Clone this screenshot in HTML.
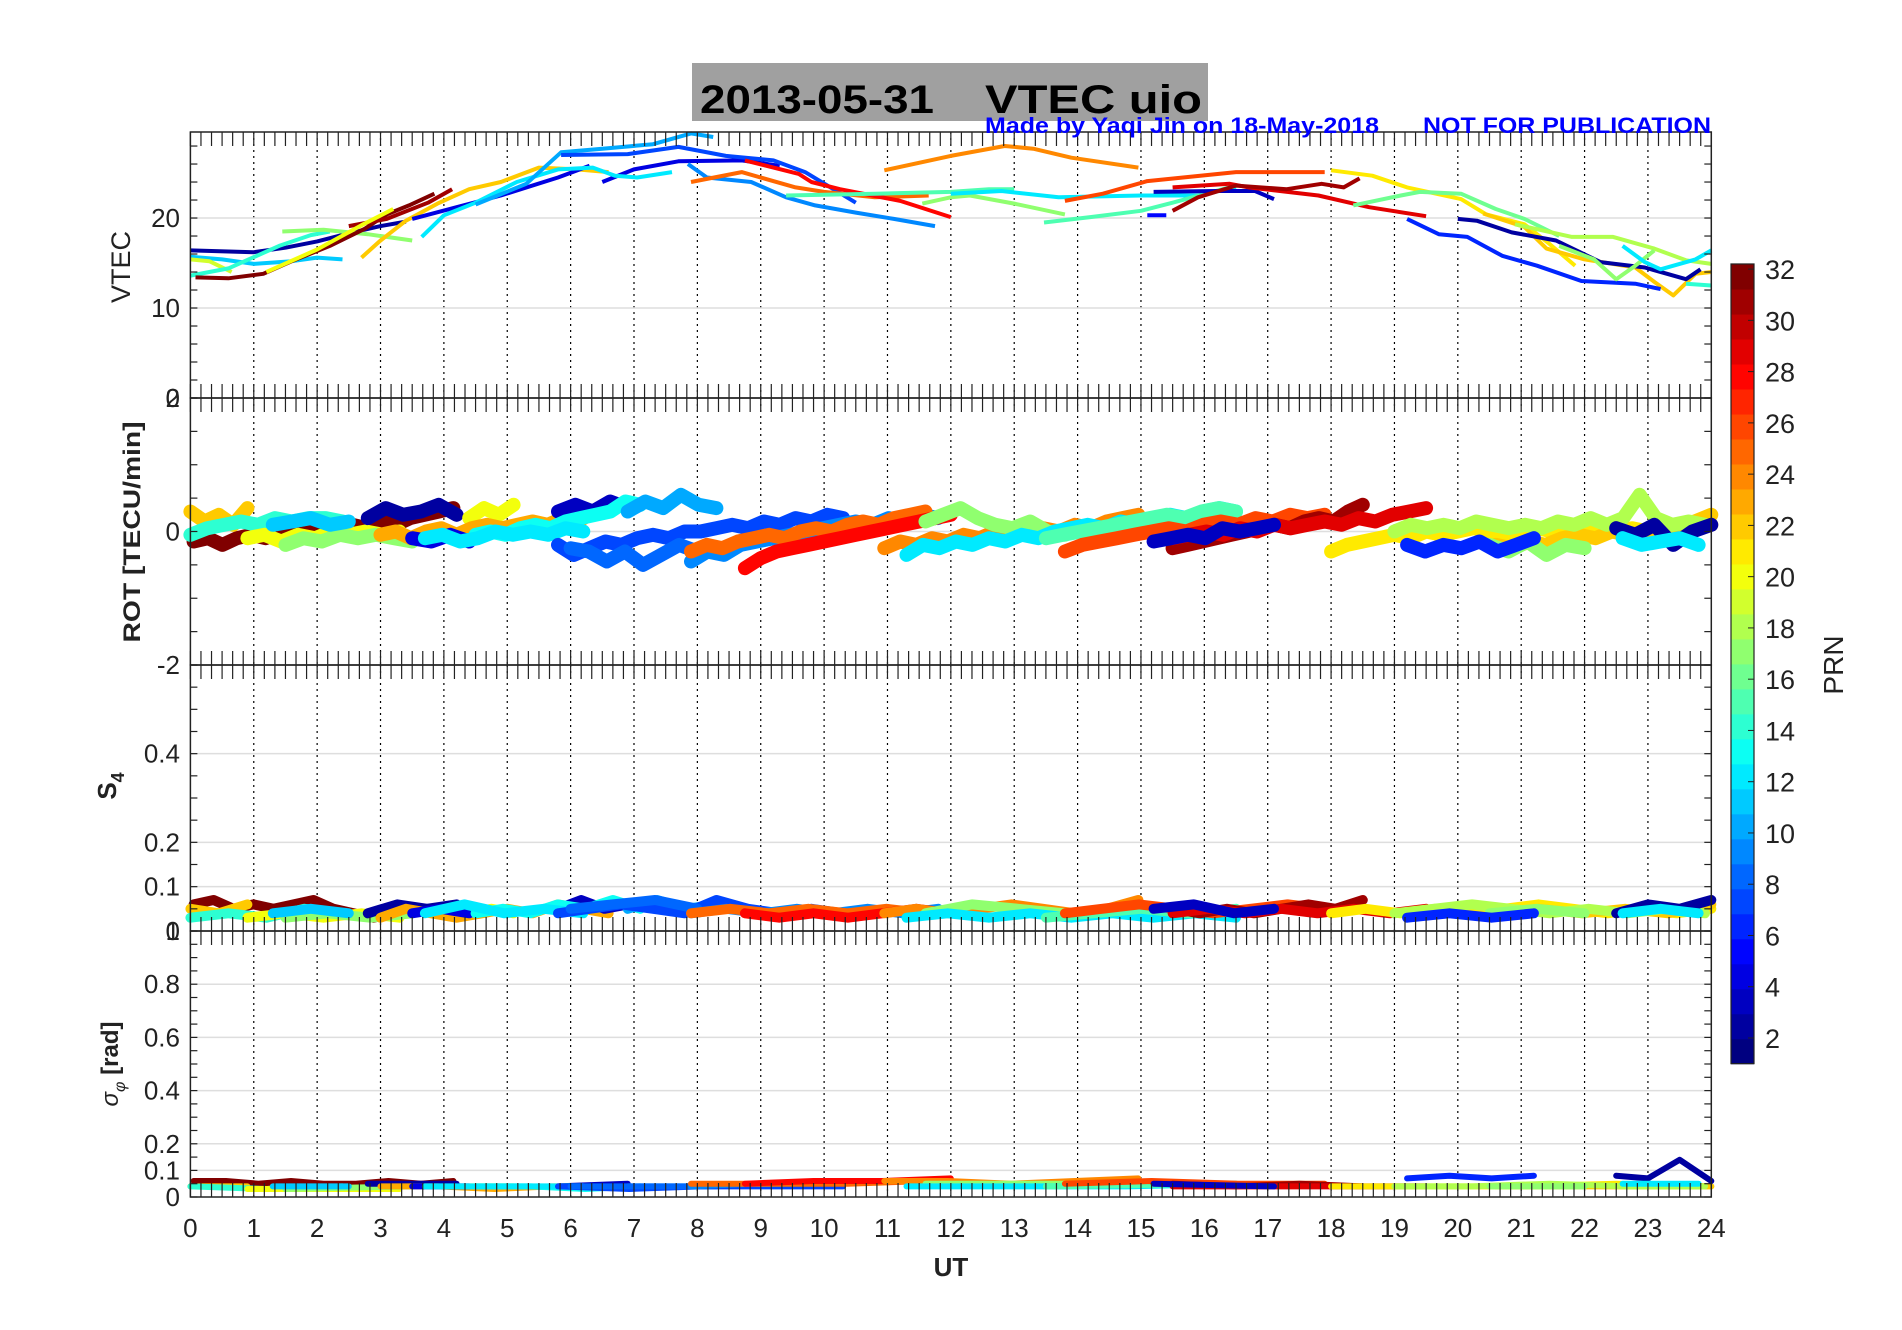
<!DOCTYPE html>
<html><head><meta charset="utf-8"><style>
html,body{margin:0;padding:0;background:#fff;}
svg{display:block;font-family:"Liberation Sans",Arial,sans-serif;}
</style></head><body>
<svg id="fig" width="1902" height="1330" viewBox="0 0 1902 1330" xmlns="http://www.w3.org/2000/svg">
<rect x="0" y="0" width="1902" height="1330" fill="#fff"/>
<g id="grid"></g>
<g id="data"></g>
<g id="axes"></g>
<rect x="692" y="63" width="516" height="58" fill="#a0a0a0"/>
<text y="113" font-size="40" font-weight="bold" fill="#000"><tspan x="700" textLength="234" lengthAdjust="spacingAndGlyphs">2013-05-31</tspan><tspan x="985" textLength="217" lengthAdjust="spacingAndGlyphs">VTEC  uio</tspan></text>
<text x="985" y="133" font-size="22" font-weight="bold" fill="#0000ff" textLength="394" lengthAdjust="spacingAndGlyphs">Made by Yaqi Jin on 18-May-2018</text>
<text x="1423" y="133" font-size="22" font-weight="bold" fill="#0000ff" textLength="288" lengthAdjust="spacingAndGlyphs">NOT FOR PUBLICATION</text>
<text transform="translate(130,267) rotate(-90)" text-anchor="middle" font-size="27" fill="#222">VTEC</text>
<text transform="translate(140,532) rotate(-90)" text-anchor="middle" font-size="24" font-weight="bold" fill="#222" textLength="221" lengthAdjust="spacingAndGlyphs">ROT [TECU/min]</text>
<text transform="translate(116,786) rotate(-90)" text-anchor="middle" font-size="26" font-weight="bold" fill="#222">S<tspan font-size="18" dy="8">4</tspan></text>
<text transform="translate(118,1064) rotate(-90)" text-anchor="middle" font-size="24" font-weight="bold" fill="#222"><tspan font-style="italic" font-weight="normal">σ</tspan><tspan font-size="16" dy="7" font-style="italic" font-weight="normal">φ</tspan><tspan dy="-7"> [rad]</tspan></text>
<text x="951" y="1276" text-anchor="middle" font-size="26" font-weight="bold" fill="#222">UT</text>
<g id="cbar"></g>
<text transform="translate(1843,665) rotate(-90)" text-anchor="middle" font-size="28" fill="#222">PRN</text>
</svg>
<script>
// ---- VTEC data (hour knots, values) ----
const vtecPrn = [2,11,19,14,17,32,31,20,22,4,4,12,10,7,9,25,28,15,24,17,12,15,26,5,3,29,31,21,22,16,6,2,18,17,12,14];
const vtecHours = [
 [0,1,1.5,2,2.5,3,3.4],[0,0.5,1,1.6,2,2.4],[0,0.3,0.65],[0,0.6,1.4,1.9,2.2],[1.45,2.1,2.8,3.5],
 [0.08,0.6,1.15,1.6,2.2,2.75,3.1,3.45,3.85],[2.5,3.1,3.75,4.13],[1.2,2.0,2.7,3.2],
 [2.7,3.0,3.4,3.9,4.4,4.9,5.5,6.1,6.6],[3.5,4.2,4.9,5.8,6.3],[6.5,7.0,7.7,8.7,9.3],
 [3.65,4.0,4.5,5.15,5.8,6.35,6.7,7.05,7.6],[4.5,5.3,5.85,6.5,7.3,7.9,8.25],
 [5.85,6.9,7.7,8.45,9.2,9.7,10.5],[7.85,8.15,8.85,9.4,9.86,10.5,11.1,11.75],
 [7.9,8.7,9.55,10.0,10.8,11.65],[8.75,9.6,9.8,10.25,11.2,12.0],[9.4,10.8,12.0,12.6,13.0],
 [10.95,12.0,12.85,13.3,13.9,14.96],[11.55,12.0,12.3,13.0,13.8],[12.0,12.8,13.7,15.0,15.9,16.5],
 [13.47,14.2,15.0,15.5,16.5],[13.8,14.4,15.1,16.5,17.9],[15.1,15.4],[15.2,16.2,16.8,17.1],
 [15.5,16.4,16.7,17.8,18.6,19.5],[15.5,15.9,16.5,17.3,17.85,18.2,18.45],
 [18.0,18.65,19.2,20.05,20.45,21.05,21.45,21.85],
 [20.4,21.05,21.4,22.0,22.8,23.1,23.4,23.75,24.0],
 [18.35,19.1,19.4,20.05,20.6,21.05,21.6],[19.2,19.7,20.15,20.7,21.25,21.95,22.8,23.2],
 [20.0,20.3,20.85,21.55,22.25,22.95,23.6,23.83],[20.9,21.8,22.45,23.1,23.6,24.0],
 [21.6,22.15,22.5,22.8,23.1],[22.6,22.95,23.2,23.75,24.0],[23.6,24.0]
];
const vtecValues = [
 [16.4,16.2,16.7,17.4,18.3,19.1,19.6],[15.7,15.4,14.9,15.2,15.6,15.4],[15.4,15.2,14.0],[13.6,14.4,16.9,18.1,18.5],[18.5,18.7,18.2,17.5],
 [13.4,13.3,13.8,15.2,16.9,18.8,20.4,21.4,22.7],[19.1,19.9,21.7,23.2],[14.0,16.5,19.2,21.0],
 [15.6,17.5,19.7,21.6,23.2,24.0,25.6,25.4,25.1],[19.9,21.2,22.5,24.5,25.8],[24.0,25.4,26.3,26.4,25.8],
 [17.9,20.3,21.7,24.0,25.4,25.6,24.7,24.5,25.1],[21.5,23.8,27.3,27.7,28.2,29.4,29.0],
 [27.0,27.1,27.9,26.9,26.4,25.1,21.7],[26.0,24.5,24.0,22.3,21.4,20.6,19.9,19.1],
 [24.0,25.1,23.4,22.9,22.3,22.5],[26.4,24.9,24.0,23.2,21.9,20.1],[22.5,22.7,22.9,23.2,23.2],
 [25.3,26.9,28.0,27.7,26.7,25.6],[21.6,22.3,22.5,21.6,20.4],[22.7,23.0,22.3,22.5,22.5,23.4],
 [19.5,20.1,20.8,21.7,23.6],[21.9,22.7,24.1,25.1,25.1],[20.3,20.3],[22.9,23.0,23.0,22.1],
 [23.4,23.8,23.4,22.5,21.2,20.2],[20.8,22.3,23.6,23.2,23.8,23.4,24.4],
 [25.3,24.7,23.4,22.1,20.4,19.3,17.1,14.7],
 [20.5,19.0,16.6,15.4,14.5,12.9,11.4,13.8,14.0],
 [21.4,22.5,22.9,22.7,21.0,19.9,18.0],[19.9,18.2,17.9,15.8,14.7,13.0,12.7,12.1],
 [19.9,19.7,18.4,17.5,15.1,14.5,13.2,14.3],[19.3,17.9,17.9,16.6,15.3,14.9],
 [16.9,15.4,13.2,14.7,16.4],[16.9,15.1,14.3,15.4,16.4],[12.7,12.5]
];
// ---- ROT / S4 / sigma tracks (evenly spaced samples between start and end) ----
const trackPrn = [32,22,14,20,17,11,2,20,23,4,3,13,12,10,7,8,9,25,28,24,17,12,15,26,31,29,3,21,22,18,17,6,2,12];
const trackStart = [0.05,0,0,0.9,1.5,1.3,2.8,4.4,3.0,3.5,5.8,4.5,3.7,6.9,5.8,6.0,7.9,7.9,8.75,10.95,11.6,11.3,13.5,13.8,15.5,15.5,15.2,18.0,20.6,19.0,20.5,19.2,22.5,22.6];
const trackEnd = [4.15,0.9,2.4,3.3,3.5,2.5,4.2,5.1,6.6,4.4,6.9,7.1,6.2,8.3,10.3,8.0,11.8,11.6,12.0,14.96,13.8,16.5,16.5,17.9,18.5,19.5,17.1,24.0,24.0,23.9,22.0,21.2,24.0,23.8];
const trackRot = [
 [-0.15,-0.1,-0.2,-0.1,-0.05,-0.1,0,-0.05,0.05,0,0.05,0.1,0.05,0.15,0.1,0.2,0.25,0.3,0.35],
 [0.3,0.15,0.25,0.1,0.35],
 [-0.05,0.05,0.1,0.15,0.1,0.2,0.15,0.2,0.2,0.15],
 [-0.1,-0.05,-0.15,-0.05,-0.1,0,-0.05,0,-0.05,0],
 [-0.2,-0.1,-0.15,-0.05,-0.1,-0.05,-0.1,-0.15],
 [0.1,0.15,0.2,0.1,0.15],
 [0.2,0.35,0.25,0.3,0.4,0.25],
 [0.2,0.35,0.25,0.4],
 [-0.05,0,-0.1,0,0.05,-0.05,0.05,0.1,0.05,0.1,0.15,0.1,0.2,0.15,0.3,0.35],
 [-0.1,-0.15,-0.05,-0.15],
 [0.3,0.4,0.3,0.45,0.35],
 [-0.05,0,-0.05,0.05,0.1,0.05,0.15,0.2,0.25,0.3,0.45,0.4],
 [-0.1,-0.05,-0.15,-0.1,0,-0.05,0,-0.05,0.05,0],
 [0.3,0.45,0.35,0.55,0.4,0.35],
 [-0.2,-0.35,-0.25,-0.15,-0.2,-0.1,-0.05,-0.1,0,0,0.05,0.1,0.05,0.15,0.1,0.2,0.15,0.25,0.2],
 [-0.25,-0.3,-0.45,-0.3,-0.5,-0.35,-0.2,-0.3],
 [-0.45,-0.3,-0.35,-0.2,-0.15,-0.1,-0.05,0,0.05,0.1,0.15,0.1,0.2,0.15,0.25,0.2],
 [-0.3,-0.2,-0.25,-0.15,-0.1,-0.05,-0.1,0,0.05,0,0.1,0.15,0.1,0.2,0.25,0.3],
 [-0.55,-0.4,-0.3,-0.25,-0.2,-0.15,-0.1,-0.05,0,0.05,0.1,0.15,0.2,0.25],
 [-0.25,-0.15,-0.2,-0.1,-0.15,-0.05,-0.1,0,-0.05,0,0.05,0,0.1,0.05,0.15,0.2,0.25],
 [0.15,0.25,0.35,0.2,0.1,0.05,0.15,0,-0.05],
 [-0.35,-0.2,-0.25,-0.15,-0.2,-0.1,-0.15,-0.05,-0.1,0,0.05,0.1,0.05,0.15,0.1,0.2,0.25,0.2,0.3,0.35,0.3],
 [-0.1,-0.05,0,0.05,0.1,0.15,0.2,0.25,0.2,0.3,0.35,0.3],
 [-0.3,-0.2,-0.15,-0.1,-0.05,0,0.05,0,0.1,0.15,0.1,0.2,0.15,0.25,0.2,0.25],
 [-0.25,-0.2,-0.15,-0.1,-0.05,0,0.05,0.1,0.05,0.15,0.2,0.15,0.3,0.4],
 [-0.1,-0.05,0,-0.05,0.05,0,0.1,0.05,0.1,0.15,0.1,0.2,0.15,0.25,0.3,0.35],
 [-0.15,-0.1,-0.05,-0.1,0.05,0,0.05,0.1],
 [-0.3,-0.2,-0.15,-0.1,-0.05,-0.1,0,-0.05,0,0.05,0,-0.05,0,0.05,0,0.05,0,0.05,0,0.05,0,0.1,0.05,0.1,0.1],
 [-0.2,-0.25,-0.15,-0.2,-0.1,-0.05,-0.1,0,-0.05,0,0.05,0.1,0.15,0.25],
 [0,0.1,0.05,0.1,0.05,0.15,0.1,0.05,0.1,0.05,0.15,0.1,0.2,0.1,0.2,0.55,0.2,0.1,0.15,0.1],
 [-0.2,-0.3,-0.15,-0.35,-0.2,-0.25],
 [-0.2,-0.3,-0.2,-0.25,-0.15,-0.3,-0.2,-0.1],
 [0.05,-0.05,0.1,-0.2,0,0.1],
 [-0.1,-0.2,-0.15,-0.1,-0.2]
];
const trackS4 = [
 [0.06,0.07,0.05,0.06,0.05,0.06,0.07,0.05,0.04,0.03,0.04,0.05,0.04,0.05],
 [0.05,0.04,0.06],[0.03,0.04,0.03,0.05,0.04],[0.03,0.04,0.03,0.04,0.03],[0.03,0.04,0.03,0.04],
 [0.04,0.05,0.04],[0.04,0.06,0.05,0.06],[0.04,0.05,0.04],
 [0.03,0.05,0.04,0.03,0.04,0.05,0.04,0.06,0.05,0.04],[0.04,0.05,0.04],[0.05,0.07,0.05,0.06],
 [0.04,0.05,0.04,0.06,0.05,0.07,0.05],[0.04,0.06,0.04,0.05,0.04],[0.05,0.07,0.05,0.06],
 [0.04,0.05,0.06,0.05,0.04,0.07,0.05,0.04,0.05,0.04],[0.05,0.06,0.07,0.05],
 [0.04,0.05,0.04,0.05,0.04,0.05,0.04,0.05],[0.04,0.05,0.04,0.05,0.04,0.05,0.04],
 [0.04,0.03,0.04,0.03,0.04,0.05,0.04],[0.04,0.05,0.04,0.05,0.06,0.05,0.04,0.05,0.07],
 [0.04,0.06,0.05,0.04],[0.03,0.04,0.03,0.04,0.03,0.04,0.03,0.04,0.03],[0.03,0.04,0.05,0.04,0.05],
 [0.04,0.05,0.06,0.05,0.04,0.05,0.06,0.05],[0.05,0.04,0.05,0.04,0.05,0.06,0.05,0.07],
 [0.04,0.05,0.04,0.05,0.04,0.05,0.04,0.05],[0.05,0.06,0.04,0.05],
 [0.04,0.05,0.04,0.05,0.04,0.05,0.06,0.05,0.04,0.05,0.04,0.05],[0.04,0.05,0.04,0.05,0.04,0.06],
 [0.04,0.05,0.06,0.05,0.04,0.05,0.04,0.05,0.04],[0.04,0.05,0.04],[0.03,0.04,0.03,0.04],
 [0.04,0.06,0.05,0.07],[0.04,0.05,0.04]
];
const trackSig = [
 [0.06,0.06,0.05,0.06,0.05,0.05,0.06,0.05,0.06],[0.04,0.04],[0.04,0.03,0.04],[0.03,0.03,0.03],[0.03,0.04],
 [0.04,0.04],[0.05,0.05],[0.04,0.04],[0.04,0.04,0.03,0.04,0.04],[0.04,0.04],[0.04,0.05],
 [0.04,0.04,0.03,0.04],[0.04,0.04],[0.04,0.04],[0.04,0.03,0.04,0.04,0.04],[0.04,0.04],
 [0.04,0.05,0.05,0.06,0.06],[0.05,0.05,0.05,0.06],[0.05,0.06,0.06,0.07],[0.06,0.06,0.05,0.06,0.07],
 [0.05,0.05],[0.04,0.04,0.04,0.05],[0.04,0.05],[0.05,0.06,0.05,0.05],[0.05,0.04,0.05,0.04],
 [0.04,0.04,0.04,0.04],[0.05,0.04],[0.04,0.04,0.04,0.05,0.04],[0.04,0.04,0.04],
 [0.04,0.04,0.05,0.04,0.04],[0.04,0.04],[0.07,0.08,0.07,0.08],[0.08,0.07,0.14,0.06],[0.05,0.05]
];
const xTickLabels = ['0','1','2','3','4','5','6','7','8','9','10','11','12','13','14','15','16','17','18','19','20','21','22','23','24'];
const vtecTicks = [10,20];
const rotTicks = [-2,0,2];
const s4Ticks = [0,0.1,0.2,0.4];
const sigTicks = [0,0.1,0.2,0.4,0.6,0.8];
const cbarTicks = [2,4,6,8,10,12,14,16,18,20,22,24,26,28,30,32];

const NS='http://www.w3.org/2000/svg';
const X0=190.4, X1=1711.3;
const xs = h => X0 + (X1-X0)*h/24;
const panels=[{t:132,b:398,lo:0,hi:29.56},{t:398,b:665,lo:-2,hi:2},{t:665,b:931,lo:0,hi:0.6},{t:931,b:1197,lo:0,hi:1}];
const ys=(p,v)=>p.b-(v-p.lo)/(p.hi-p.lo)*(p.b-p.t);
function jet(prn){const x=(prn-1)/31;const c=v=>Math.round(255*Math.max(0,Math.min(1,v)));
 return `rgb(${c(1.5-Math.abs(4*x-3))},${c(1.5-Math.abs(4*x-2))},${c(1.5-Math.abs(4*x-1))})`;}
function mk(tag,attrs,parent){const e=document.createElementNS(NS,tag);for(const k in attrs)e.setAttribute(k,attrs[k]);parent.appendChild(e);return e;}
const G=document.getElementById('grid'),D=document.getElementById('data'),A=document.getElementById('axes'),C=document.getElementById('cbar');

panels.forEach((p,pi)=>{
 for(let h=1;h<24;h++){const l=mk('line',{x1:xs(h),x2:xs(h),y1:p.t,y2:p.b,stroke:'#000','stroke-width':1.2,'stroke-dasharray':'2 4'},G);
  
  }
 const tk=[vtecTicks,rotTicks,s4Ticks,sigTicks][pi];
 tk.forEach(v=>{const y=ys(p,v);if(y<=p.t+1||y>=p.b-1)return;
  const l=mk('line',{x1:X0,x2:X1,y1:y,y2:y,stroke:'#dedede','stroke-width':1.5},G);
  
  });
});
vtecPrn.forEach((prn,i)=>{const pts=vtecHours[i].map((h,j)=>xs(h).toFixed(1)+','+ys(panels[0],vtecValues[i][j]).toFixed(1)).join(' ');
 const l=mk('polyline',{points:pts,fill:'none',stroke:jet(prn),'stroke-width':4,'stroke-linejoin':'round'},D);
 
 });
function drawTrack(arr,pi,w,name){arr.forEach((vals,i)=>{const t0=trackStart[i],t1=trackEnd[i],n=vals.length;
 const pts=vals.map((v,j)=>{const h=n>1?t0+(t1-t0)*j/(n-1):t0;return xs(h).toFixed(1)+','+ys(panels[pi],v).toFixed(1);}).join(' ');
 const l=mk('polyline',{points:pts,fill:'none',stroke:jet(trackPrn[i]),'stroke-width':w,'stroke-linejoin':'round','stroke-linecap':'round'},D);
 
 });}
drawTrack(trackRot,1,14,'rot');
drawTrack(trackS4,2,10,'s4');
drawTrack(trackSig,3,6,'sigma-phi');
panels.forEach((p,pi)=>{
 const r=mk('rect',{x:X0,y:p.t,width:X1-X0,height:p.b-p.t,fill:'none',stroke:'#222','stroke-width':1.5},A);
 
 
 for(let k=0;k<=144;k++){const x=xs(k/6);
  mk('line',{x1:x,x2:x,y1:p.t,y2:p.t+14,stroke:'#222','stroke-width':1.2},A);
  mk('line',{x1:x,x2:x,y1:p.b,y2:p.b-14,stroke:'#222','stroke-width':1.2},A);}
 const step=[2,0.5,0.05,0.05][pi];
 for(let v=p.lo;v<=p.hi+1e-9;v+=step){const y=ys(p,v);
  mk('line',{x1:X0,x2:X0+7,y1:y,y2:y,stroke:'#222','stroke-width':1.2},A);
  mk('line',{x1:X1,x2:X1-7,y1:y,y2:y,stroke:'#222','stroke-width':1.2},A);}
 const tk=[vtecTicks.concat([0]),rotTicks,s4Ticks,sigTicks.concat([1])][pi];
 tk.forEach(v=>{const t=mk('text',{x:180,y:ys(p,v)+9,'text-anchor':'end','font-size':26,fill:'#222'},A);
  t.textContent=String(v);
  
  });
});
xTickLabels.forEach((s,i)=>{const t=mk('text',{x:xs(i),y:1237,'text-anchor':'middle','font-size':26,fill:'#222'},A);
 t.textContent=s;
 
 });
const cy=v=>1038-(v-2)*25.63;
for(let k=1;k<=32;k++){const top=cy(1+k*31.2/32),bot=cy(1+(k-1)*31.2/32);
 const r=mk('rect',{x:1731,y:top,width:23,height:bot-top+0.6,fill:jet(k)},C);
 
 }
mk('rect',{x:1731,y:cy(32.2),width:23,height:cy(1)-cy(32.2),fill:'none',stroke:'#222','stroke-width':1.2},C);
cbarTicks.forEach(v=>{mk('line',{x1:1748,x2:1754,y1:cy(v),y2:cy(v),stroke:'#222','stroke-width':1},C);
 const t=mk('text',{x:1765,y:cy(v)+10,'font-size':27,fill:'#222'},C);
 t.textContent=String(v);
 
 });
</script>
</body></html>
